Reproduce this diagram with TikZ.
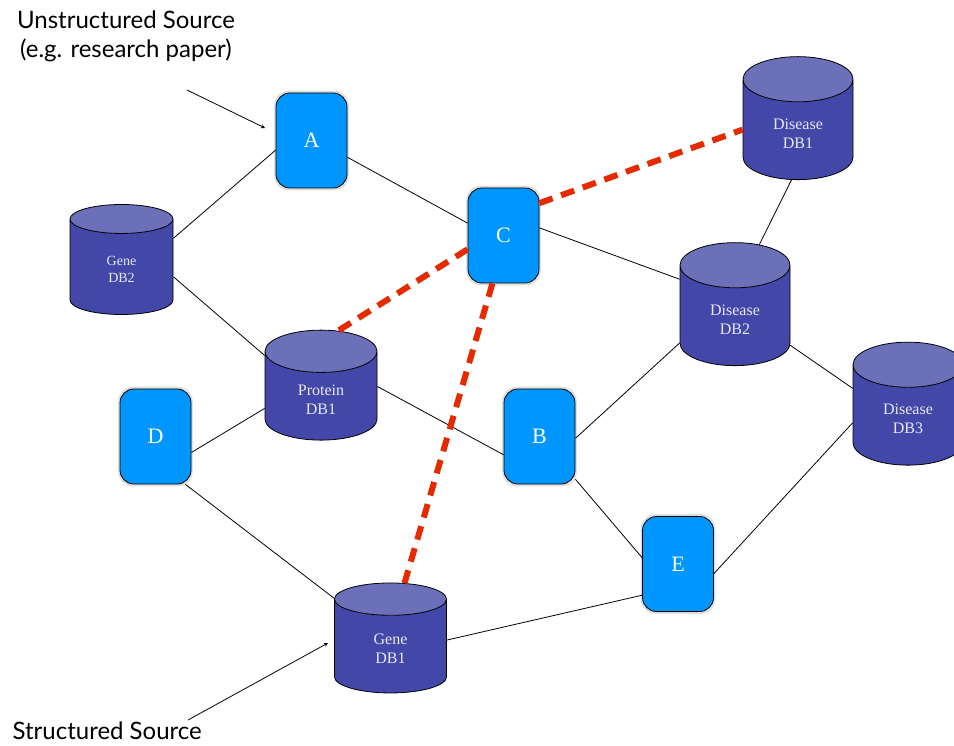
\documentclass[tikz,border=0pt]{standalone}
\usepackage{fontspec}
\newfontfamily\notefont{Lato}
\newfontfamily\labelfont{Liberation Serif}
\usetikzlibrary{shapes.geometric, arrows, shadows}
\definecolor{entityblue}{HTML}{0096FF}
\definecolor{dbbody}{HTML}{4348A8}
\definecolor{dbtop}{HTML}{6C70B9}
\definecolor{dbtext}{HTML}{E8E8F6}
\definecolor{mapred}{HTML}{E52A00}

\begin{document}
\begin{tikzpicture}[
    x=1pt, y=-1pt,
    entity/.style={rectangle, draw=black, line width=0.8pt, fill=entityblue, rounded corners=14pt, minimum width=71pt, minimum height=95pt, text=white, font=\labelfont\fontsize{22}{26}\selectfont, drop shadow={opacity=0.25, shadow xshift=0pt, shadow yshift=0pt, shadow scale=1.05}},
    db/.style={cylinder, shape border rotate=90, aspect=0.8, draw=black, line width=0.8pt, cylinder uses custom fill, cylinder body fill=dbbody, cylinder end fill=dbtop, minimum width=112pt, minimum height=110pt, align=center, text=dbtext, font=\labelfont\fontsize{16}{19}\selectfont},
    link/.style={draw=black, line width=0.8pt},
    mapping/.style={draw=mapred, line width=6pt, dash pattern=on 14pt off 9pt},
    arrow/.style={->, >=stealth, line width=0.8pt},
    note/.style={font=\notefont\fontsize{24}{29}\selectfont, align=center}
]
\useasboundingbox (0,0) rectangle (954,746);

% Sources
\node[note] (unstr) at (126,36) {Unstructured Source\\(e.g. research paper)};
\node[note, anchor=base west] (str) at (9,739) {Structured Source};
\coordinate (unstrTail) at (187,90);
\coordinate (unstrHead) at (265,128);
\coordinate (strTail) at (188,720);
\coordinate (strHead) at (328,643);

% Entities
\node[entity] (A) at (311.5,140.5) {A};
\node[entity] (C) at (503.5,235.5) {C};
\node[entity] (D) at (155.5,436.5) {D};
\node[entity] (B) at (539.5,436.5) {B};
\node[entity] (E) at (678,564) {E};

% Databases
\node[db, minimum width=103pt, font=\labelfont\fontsize{14}{17}\selectfont] (gene2) at (121.5,269.5) {Gene\\DB2};
\node[db] (protein1) at (321,399.5) {Protein\\DB1};
\node[db] (gene1) at (390.5,649) {Gene\\DB1};
\node[db, minimum width=110pt, minimum height=123pt] (disease1) at (798,133.5) {Disease\\DB1};
\node[db, minimum width=110pt, minimum height=123pt] (disease2) at (735,319.5) {Disease\\DB2};
\node[db, minimum width=110pt, minimum height=123pt] (disease3) at (908,419) {Disease\\DB3};

% Links
\draw[link] (A.195) -- (gene2.31);
\draw[link] (A.-25) -- (C.161);
\draw[link] (C.12) -- (disease2.144);
\draw[link] (gene2.-8) -- (protein1.142);
\draw[link] (protein1.13) -- (B.207);
\draw[link] (protein1.189) -- (D.-24);
\draw[link] (D.-58) -- (gene1.138);
\draw[link] (B.-3) -- (disease2.203);
\draw[link] (B.-50) -- (E.170);
\draw[link] (E.221) -- (gene1.9);
\draw[link] (E.-15) -- (disease3.184);
\draw[link] (disease2.-25) -- (disease3.151);
\draw[link] (disease1.262) -- (disease2.72);

% Mappings
\draw[mapping] (C.42) -- (disease1.176);
\draw[mapping] (C.201) -- (protein1.76);
\draw[mapping] (C.257) -- (gene1.78);

% Source arrows
\draw[arrow] (unstrTail) -- (unstrHead);
\draw[arrow] (strTail) -- (strHead);

\end{tikzpicture}
\end{document}
